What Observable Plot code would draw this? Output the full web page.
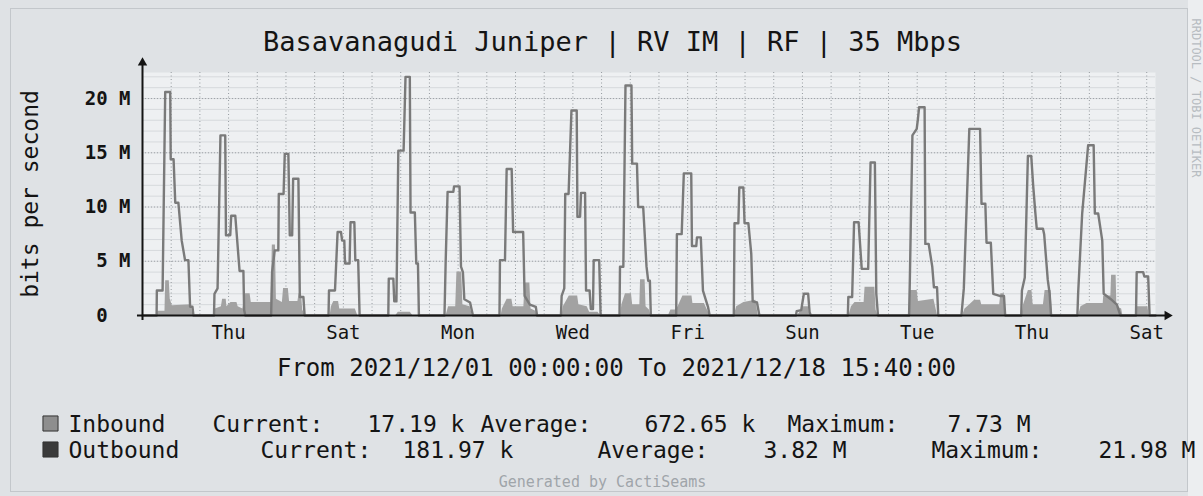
<!DOCTYPE html>
<html>
<head>
<meta charset="utf-8">
<script src="https://cdn.jsdelivr.net/npm/d3@7"></script>
<script src="https://cdn.jsdelivr.net/npm/@observablehq/plot@0.6"></script>
<style>
  html, body { margin: 0; padding: 0; background: #dfe2e5; }
  #wrap { position: relative; width: 1203px; height: 496px; overflow: hidden; background: #dfe2e5; }
  #frame { position: absolute; left: 10px; top: 8px; width: 1176px; height: 482px; border: 1px solid #c3c7cb; }
  #edge { position: absolute; left: 1188px; top: 0; width: 15px; height: 496px; background: #eceef0; }
  #wrap svg { position: absolute; left: 0; top: 0; overflow: visible; }
</style>
</head>
<body>
<div id="wrap"><div id="edge"></div><div id="frame"></div></div>
<script>
// ---------- texts ----------
const titleText = "Basavanagudi Juniper | RV IM | RF | 35 Mbps";
const yAxisLabel = "bits per second";
const rangeText = "From 2021/12/01 00:00:00 To 2021/12/18 15:40:00";
const footerText = "Generated by CactiSeams";
const watermark = "RRDTOOL / TOBI OETIKER";

// ---------- axes ----------
const yTicks = [0, 5e6, 10e6, 15e6, 20e6];
const yTickLabels = ["0\u00a0\u00a0", "5 M", "10 M", "15 M", "20 M"];
const xTickDays = [2, 4, 6, 8, 10, 12, 14, 16, 18];
const xTickLabels = ["Thu", "Sat", "Mon", "Wed", "Fri", "Sun", "Tue", "Thu", "Sat"];

// ---------- legend ----------
const legendSeries = ["Inbound", "Outbound"];
const legendCurrent = ["17.19 k", "181.97 k"];
const legendAverage = ["672.65 k", "3.82 M"];
const legendMaximum = ["7.73 M", "21.98 M"];

// ---------- series: [hours since 2021/12/01 00:00, Mbit/s] ----------
const outboundPts = [
  [0,0],[5.9,0],[6.0,2.3],[8.4,2.3],[9.5,20.6],[11.6,20.6],[11.8,14.4],[13.0,14.4],[13.7,10.4],[15.0,10.4],[16.4,6.9],[17.8,5.1],[19.2,5.1],[19.9,0.8],[20.9,0.8],[21.3,0],
  [29.9,0],[30.1,2.0],[31.4,2.5],[32.6,16.6],[34.6,16.6],[34.9,7.4],[36.7,7.4],[37.1,9.2],[38.8,9.2],[40.6,4.1],[42.2,4.1],[42.5,0.5],[43.0,0],
  [53.8,0],[54.2,4.0],[55.3,6.0],[56.8,6.0],[57.0,11.2],[59.0,11.2],[59.5,14.9],[61.0,14.9],[61.6,7.4],[62.6,7.4],[63.0,12.6],[65.2,12.6],[65.8,1.7],[67.3,1.7],[67.8,0],
  [77.8,0],[78.0,2.3],[80.5,2.3],[81.6,7.7],[83.0,7.7],[83.5,6.9],[84.4,6.9],[84.7,4.8],[86.6,4.8],[87.0,8.6],[88.6,8.6],[89.0,5.1],[90.2,5.1],[90.8,0],
  [102.8,0],[103.0,3.4],[104.9,3.4],[105.3,1.3],[106.2,1.3],[107.0,15.2],[109.2,15.2],[110.0,22.0],[111.8,22.0],[112.1,9.5],[113.9,9.5],[114.5,4.8],[115.2,4.8],[115.6,0],
  [126.3,0],[126.8,5.0],[127.6,11.4],[130.0,11.4],[130.3,11.9],[132.6,11.9],[133.2,4.5],[134.0,4.0],[134.6,1.5],[137.0,1.2],[138.2,0],
  [149.3,0],[149.5,5.1],[151.6,5.1],[152.3,13.5],[154.4,13.5],[155.0,7.7],[159.2,7.7],[159.8,1.8],[162.0,1.0],[164.5,0.8],[165.0,0],
  [175.0,0],[175.3,1.8],[176.4,2.5],[176.8,11.2],[178.2,11.2],[179.4,18.9],[181.6,18.9],[181.9,9.1],[183.0,9.1],[183.4,11.3],[185.1,11.3],[185.5,2.3],[187.0,2.3],[187.5,0.6],[188.4,0.6],[188.7,5.1],[191.0,5.1],[191.6,0],
  [199.5,0],[199.7,4.5],[201.1,4.5],[202.0,21.2],[204.5,21.2],[204.8,14.0],[206.8,14.0],[207.3,10.0],[209.4,10.0],[210.8,4.5],[211.5,3.2],[212.2,3.2],[212.6,0],
  [223.2,0],[223.5,7.5],[225.5,7.5],[226.4,13.1],[229.5,13.1],[229.8,6.4],[231.6,6.4],[231.9,7.2],[233.5,7.2],[234.4,2.3],[236.5,0.8],[237.2,0],
  [247.3,0],[247.6,8.5],[249.2,8.5],[249.6,11.8],[251.3,11.8],[251.8,8.5],[253.4,8.5],[254.6,5.7],[255.2,1.3],[257.0,1.2],[258.0,0],
  [273.3,0],[273.6,0.4],[275.5,0.5],[276.6,2.0],[278.4,2.0],[279.0,0.3],[279.5,0],
  [295.0,0],[295.2,1.7],[296.8,1.7],[297.6,8.6],[299.5,8.6],[300.8,4.3],[303.5,4.3],[304.5,14.1],[306.3,14.1],[306.9,2.0],[307.6,0],
  [320.6,0],[320.9,3.0],[322.0,16.6],[323.8,17.2],[324.3,18.1],[324.8,19.2],[327.1,19.2],[327.4,6.6],[328.8,6.6],[330.3,4.5],[331.0,2.6],[332.3,2.6],[332.8,0],
  [342.5,0],[343.5,2.5],[345.8,17.2],[350.3,17.2],[350.9,10.3],[352.5,10.3],[353.0,6.7],[354.8,6.7],[355.8,2.0],[358.5,1.8],[360.3,1.8],[360.8,0],
  [367.5,0],[367.8,2.3],[369.0,3.5],[370.3,14.7],[371.7,14.7],[372.5,12.0],[373.4,9.5],[374.0,8.0],[376.6,8.0],[377.1,7.5],[378.6,3.3],[379.4,2.0],[380.0,0],
  [391.0,0],[391.3,2.0],[393.0,9.4],[395.5,15.7],[397.8,15.7],[398.3,9.4],[399.7,9.4],[401.4,6.9],[402.0,2.0],[405.0,1.5],[407.5,1.0],[409.0,0],
  [415.5,0],[415.8,4.0],[418.5,4.0],[419.0,3.6],[420.6,3.6],[421.2,0],[423.67,0]
];
const inboundPts = [
  [0,0],[6.0,0],[6.5,0.4],[9.4,0.4],[9.7,3.2],[11.2,3.2],[11.6,1.5],[12.5,0.9],[20.5,1.0],[21.0,0],
  [30.0,0],[30.5,0.6],[33.0,0.8],[33.5,1.5],[35.0,1.5],[35.3,0.8],[37.0,1.2],[39.5,1.2],[40.0,0.8],[42.0,0.6],[43.0,2.0],[45.0,2.0],[45.5,1.2],[53.8,1.2],
  [54.3,6.5],[55.6,6.5],[56.0,1.5],[58.5,1.2],[59.0,2.5],[61.0,2.5],[61.5,1.3],[65.0,1.3],[65.5,2.0],[66.5,2.0],[67.0,0.5],[68.0,0],
  [78.5,0],[79.0,0.8],[80.0,1.3],[82.0,1.3],[82.5,0.6],[89.0,0.6],[90.0,0],
  [106.0,0],[107.0,0.3],[112.0,0.3],[113.0,0],
  [127.0,0],[128.0,0.8],[131.0,0.8],[131.5,4.0],[133.5,4.0],[134.0,1.0],[137.0,0.8],[138.0,0],
  [150.0,0],[150.5,0.6],[152.5,1.5],[154.5,1.5],[155.0,0.8],[159.5,0.8],[160.0,3.0],[162.0,3.0],[162.5,0.6],[164.5,0.4],[165.0,0],
  [175.5,0],[176.0,0.8],[178.5,1.8],[182.0,1.8],[182.5,1.0],[186.0,0.8],[187.0,0.3],[190.5,0.3],[191.5,0],
  [200.0,0],[200.5,1.0],[202.0,2.0],[204.5,2.0],[205.0,1.0],[208.0,1.0],[208.3,3.3],[210.2,3.3],[210.6,0.8],[212.0,0.5],[212.5,0],
  [220.0,0],[221.0,0.5],[223.0,0.5],[224.0,0.8],[226.0,1.8],[229.8,1.8],[230.2,1.1],[235.0,1.1],[236.5,0.4],[237.3,0],
  [247.5,0],[248.5,0.8],[251.5,1.2],[256.5,1.4],[257.5,0],
  [274.0,0],[276.5,0.8],[278.5,0.8],[279.0,0],
  [295.5,0],[296.5,0.8],[298.0,1.2],[301.8,1.2],[302.2,2.6],[306.3,2.6],[306.8,0.5],[307.5,0],
  [320.8,0],[321.2,2.3],[324.0,2.3],[324.5,1.3],[331.0,1.5],[332.5,0],
  [343.0,0],[344.0,0.6],[346.0,1.0],[348.0,1.4],[350.5,1.4],[351.0,1.0],[358.5,1.0],[359.0,2.0],[360.4,2.0],[360.8,0],
  [367.8,0],[368.5,1.0],[370.5,2.3],[372.0,2.3],[372.5,1.0],[376.8,1.0],[377.5,2.3],[380.0,2.3],[380.5,0],
  [391.5,0],[392.5,0.8],[395.0,1.1],[401.8,1.1],[402.0,1.8],[405.0,1.8],[405.3,3.7],[407.2,3.7],[407.5,0.8],[409.5,0.6],[410.0,0],
  [415.6,0],[416.0,0.8],[420.5,0.8],[421.0,0],[423.67,0]
];

// ---------- build ----------
const W = 1203, HGT = 496, ML = 142, MR = 48, MT = 72, MB = 181;
const t0 = Date.UTC(2021, 11, 1, 0, 0);
const t1 = Date.UTC(2021, 11, 18, 15, 40);
const HOUR = 3600e3;
const toDate = h => new Date(t0 + h * HOUR);
const outData = outboundPts.map(([h, v]) => ({t: toDate(h), v: v * 1e6}));
const inData = inboundPts.map(([h, v]) => ({t: toDate(h), v: v * 1e6}));
const xTickDates = xTickDays.map(d => new Date(Date.UTC(2021, 11, d, 12)));
const gridTimes = d3.utcHour.every(12).range(new Date(t0 + 12 * HOUR), new Date(t1));
const minorY = d3.range(1, 23).map(m => m * 1e6);

const ink = "#141414";
const txt = (s, x, base, size, anchor = "start", fill = ink, extra = {}) =>
  Plot.text([s], {frameAnchor: "top-left", dx: x - ML, dy: base - MT, text: d => d,
    fontSize: size, textAnchor: anchor, lineAnchor: "bottom", fill, ...extra});

const legendRows = [
  {base: 431, box: "#8e8e8e", xs: [68, 212, 367, 480, 644, 787, 947]},
  {base: 457, box: "#3a3a3a", xs: [68, 260, 402, 597, 763, 931, 1098]}
];
const legendMarks = [];
legendRows.forEach((r, i) => {
  legendMarks.push(Plot.dot([0], {frameAnchor: "top-left", dx: 50 - ML, dy: r.base - 8 - MT,
    symbol: "square", r: 8.5, fill: r.box, stroke: "#333", strokeWidth: 1}));
  const parts = [legendSeries[i], "Current:", legendCurrent[i], "Average:", legendAverage[i], "Maximum:", legendMaximum[i]];
  parts.forEach((p, j) => legendMarks.push(txt(p, r.xs[j], r.base, 23)));
});

const chart = Plot.plot({
  width: W, height: HGT,
  marginLeft: ML, marginRight: MR, marginTop: MT, marginBottom: MB,
  style: {background: "transparent", fontFamily: "'DejaVu Sans Mono', monospace", color: ink},
  x: {type: "utc", domain: [new Date(t0), new Date(t1)]},
  y: {domain: [0, 22.4e6]},
  marks: [
    Plot.frame({fill: "#eef0f2", stroke: "none"}),
    Plot.ruleY(minorY, {stroke: "#d6d9dc", strokeWidth: 1}),
    Plot.ruleY(yTicks.slice(1), {stroke: "#9ea3a8", strokeDasharray: "1,2"}),
    Plot.ruleX(gridTimes, {stroke: "#959a9f", strokeDasharray: "1,2.5"}),
    Plot.areaY(inData, {x: "t", y: "v", fill: "#a2a2a2", curve: "linear"}),
    Plot.line(outData, {x: "t", y: "v", stroke: "#7a7a7a", strokeWidth: 2.4, curve: "linear"}),
    Plot.ruleY([0], {x1: toDate(-2.1), x2: toDate(428), stroke: ink, strokeWidth: 2}),
    Plot.ruleX([new Date(t0)], {y1: -0.45e6, y2: 23.2e6, stroke: ink, strokeWidth: 2}),
    Plot.dot([0], {x: () => new Date(t0), y: () => 23.3e6, symbol: "triangle2", r: 4.5, fill: ink}),
    Plot.dot([0], {x: () => toDate(428.6), y: () => 0, symbol: "triangle2", r: 4.5, fill: ink, rotate: 90}),
    Plot.axisY({ticks: yTicks, tickFormat: d => yTickLabels[yTicks.indexOf(d)], tickSize: 0, tickPadding: 12, fontSize: 19, fontWeight: "bold", label: null, fill: ink}),
    Plot.axisX({ticks: xTickDates, tickFormat: d => xTickLabels[xTickDays.indexOf(d.getUTCDate())], tickSize: 0, tickPadding: 9.5, fontSize: 19, label: null, fill: ink}),
    txt(titleText, 612, 50, 27, "middle"),
    Plot.text([yAxisLabel], {frameAnchor: "left", dx: 37 - ML, text: d => d, rotate: -90, fontSize: 23, textAnchor: "middle", lineAnchor: "bottom", fill: ink}),
    txt(rangeText, 616, 375, 24, "middle"),
    ...legendMarks,
    txt(footerText, 602, 486, 15, "middle", "#9fa5aa"),
    Plot.text([watermark], {frameAnchor: "top-right", dx: 1195 - (W - MR), dy: 18 - MT, text: d => d, rotate: 90, fontSize: 12, textAnchor: "start", lineAnchor: "middle", fill: "#b7bcc1"})
  ]
});
document.getElementById("wrap").appendChild(chart);
</script>
</body>
</html>
